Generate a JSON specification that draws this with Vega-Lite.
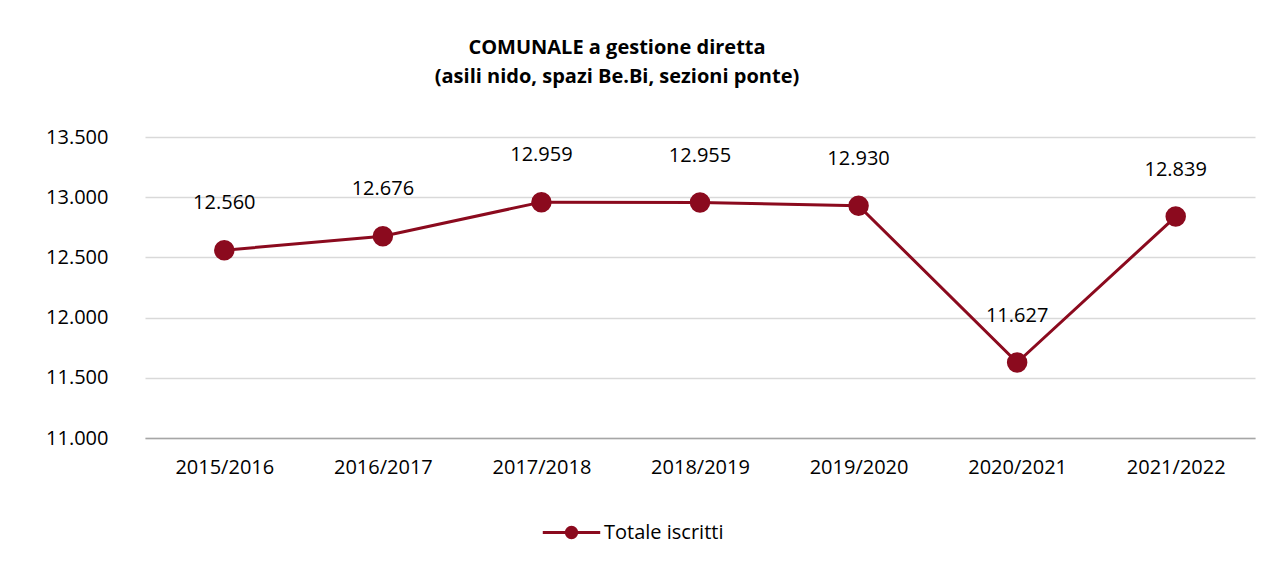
{
  "$schema": "https://vega.github.io/schema/vega-lite/v6.json",
  "autosize": {"type": "none"},
  "width": 1110,
  "height": 301,
  "padding": {"left": 145, "top": 137, "right": 32, "bottom": 132},
  "background": "white",
  "config": {
    "locale": {"number": {"decimal": ",", "thousands": ".", "grouping": [3], "currency": ["€", ""]}},
    "view": {"stroke": null},
    "font": "Open Sans"
  },
  "title": {
    "text": ["COMUNALE a gestione diretta", "(asili nido, spazi Be.Bi, sezioni ponte)"],
    "anchor": "middle",
    "dx": -83,
    "offset": 40,
    "lineHeight": 29,
    "font": "Open Sans",
    "fontSize": 20,
    "fontWeight": "bold",
    "color": "#000000"
  },
  "data": {
    "values": [
      {"anno": "2015/2016", "iscritti": 12560, "serie": "Totale iscritti"},
      {"anno": "2016/2017", "iscritti": 12676, "serie": "Totale iscritti"},
      {"anno": "2017/2018", "iscritti": 12959, "serie": "Totale iscritti"},
      {"anno": "2018/2019", "iscritti": 12955, "serie": "Totale iscritti"},
      {"anno": "2019/2020", "iscritti": 12930, "serie": "Totale iscritti"},
      {"anno": "2020/2021", "iscritti": 11627, "serie": "Totale iscritti"},
      {"anno": "2021/2022", "iscritti": 12839, "serie": "Totale iscritti"}
    ]
  },
  "encoding": {
    "x": {
      "field": "anno", "type": "ordinal", "title": null,
      "scale": {"type": "point", "padding": 0.5},
      "axis": {
        "labelAngle": 0, "labelFont": "Open Sans", "labelFontSize": 20, "labelColor": "#000000",
        "labelPadding": 19, "ticks": false, "domain": true, "domainColor": "#a6a6a6", "domainWidth": 1.5,
        "grid": false
      }
    },
    "y": {
      "field": "iscritti", "type": "quantitative", "title": null,
      "scale": {"domain": [11000, 13500], "nice": false, "zero": false},
      "axis": {
        "values": [11000, 11500, 12000, 12500, 13000, 13500],
        "format": ",d", "labelFont": "Open Sans", "labelFontSize": 20, "labelColor": "#000000",
        "labelPadding": 37, "ticks": false, "domain": false,
        "grid": true, "gridColor": "#d9d9d9", "gridWidth": 1.5
      }
    }
  },
  "layer": [
    {
      "mark": {"type": "line", "strokeWidth": 3},
      "encoding": {
        "color": {
          "field": "serie", "type": "nominal", "title": null,
          "scale": {"range": ["#8b0a1e"]},
          "legend": {
            "orient": "none", "legendX": 396, "legendY": 365,
            "symbolType": "M-1,0L1,0M-0.18,0A0.18,0.18,0,1,1,0.18,0A0.18,0.18,0,1,1,-0.18,0Z",
            "symbolSize": 3300, "symbolStrokeWidth": 3, "symbolFillColor": "#8b0a1e",
            "symbolStrokeColor": "#8b0a1e",
            "labelFont": "Open Sans", "labelFontSize": 20, "labelColor": "#000000", "labelOffset": 2
          }
        }
      }
    },
    {
      "mark": {"type": "point", "filled": true, "opacity": 1, "size": 420, "color": "#8b0a1e"},
      "encoding": {}
    },
    {
      "mark": {"type": "text", "dy": -47, "font": "Open Sans", "fontSize": 20, "color": "#000000"},
      "encoding": {"text": {"field": "iscritti", "type": "quantitative", "format": ",d"}}
    }
  ]
}
